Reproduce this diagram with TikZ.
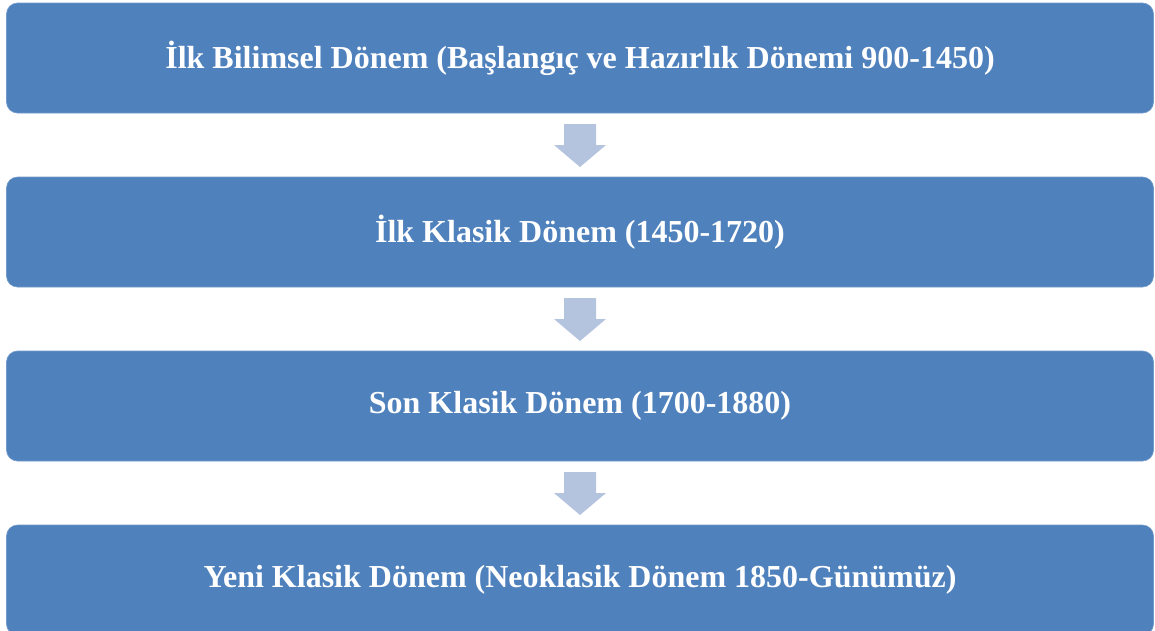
\documentclass[tikz,border=0pt]{standalone}
\usepackage{fontspec}
\setmainfont{Liberation Serif}
\usetikzlibrary{calc}
\definecolor{boxblue}{HTML}{4F81BD}
\definecolor{arrowblue}{HTML}{B4C4DF}
\tikzset{
  stage/.style={rounded corners=11pt, fill=boxblue, draw=boxblue!80!white, line width=0.6pt,
    minimum width=1147pt, minimum height=110pt, inner sep=0pt, text=white,
    font=\fontsize{32}{38}\selectfont\bfseries},
  blockarrow/.style={fill=arrowblue, draw=none}
}
\begin{document}
\begin{tikzpicture}[x=1pt,y=-1pt]
\useasboundingbox (0,0) rectangle (1155,630);
\node[stage] (b1) at (580,58) {İlk Bilimsel Dönem (Başlangıç ve Hazırlık Dönemi 900-1450)};
\node[stage] (b2) at (580,232) {İlk Klasik Dönem (1450-1720)};
\node[stage] (b3) at (580,406) {Son Klasik Dönem (1700-1880)};
\node[stage] (b4) at (580,580) {Yeni Klasik Dönem (Neoklasik Dönem 1850-Günümüz)};
\foreach \a/\b in {b1/b2,b2/b3,b3/b4}{
  \coordinate (m\a) at ($(\a.south)!0.5!(\b.north)$);
  \path[blockarrow] (m\a) ++(-16,-21) -- ++(32,0) -- ++(0,21) -- ++(10,0) -- ++(-26,22) -- ++(-26,-22) -- ++(10,0) -- cycle;
}
\end{tikzpicture}
\end{document}
